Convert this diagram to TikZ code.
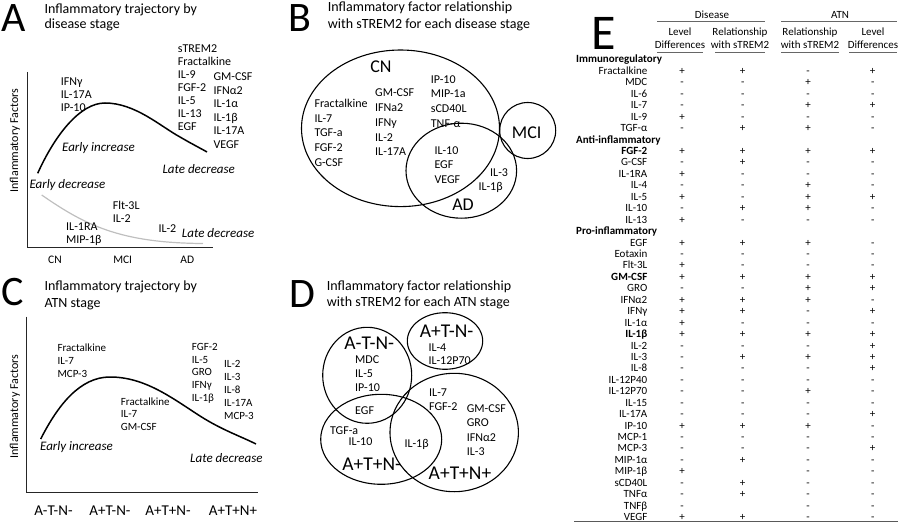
\documentclass[tikz,border=0pt]{standalone}
\usepackage{fontspec}
\setmainfont{Carlito}
\usetikzlibrary{shapes.geometric,positioning}

% one factor per line, first baseline at (x,y)
\newcommand\factorlist[6][]{%
  \foreach \t [count=\i] in {#6}
    \node[fac,#1] (#2\i) at (#3,{#4+(\i-1)*#5}) {\t};}

\begin{document}
\begin{tikzpicture}[x=1pt,y=-1pt,
  lbl/.style={anchor=base west,inner sep=0pt},
  letter/.style={lbl,font=\fontsize{42}{42}\selectfont},
  title/.style={lbl,align=left,font=\fontsize{14}{16.6}\selectfont},
  fac/.style={lbl,font=\fontsize{12}{14}\selectfont},
  trend/.style={lbl,font=\fontsize{13}{15}\selectfont\itshape},
  stage/.style={anchor=base,inner sep=0pt,font=\fontsize{11.5}{12}\selectfont},
  setname/.style={anchor=base,inner sep=0pt,font=\fontsize{18}{18}\selectfont},
  axis/.style={line width=0.9pt,black!85},
  curve/.style={line width=1.5pt},
  venn/.style={draw,ellipse,line width=1.1pt,inner sep=0pt},
  tab/.style={anchor=base,inner sep=0pt,font=\fontsize{11}{11.4}\selectfont},
  rule/.style={line width=0.6pt,black!60}]
\useasboundingbox (0,0) rectangle (900,524);

% panel A
\node[letter] (lA) at (1,31.7) {A};
\node[title,font=\fontsize{14}{15}\selectfont] (tA) at (44.3,28.3) {Inflammatory trajectory by\\disease stage};
\node[rotate=90,font=\fontsize{12}{12}\selectfont] (yA) at (15,140.5) {Inflammatory Factors};
\coordinate (A-top) at (27.7,72);
\coordinate (A-end) at (213.3,247.5);
\draw[axis] (A-top) |- (A-end);
\node[stage] (CN) at (55,263.7) {CN};
\node[stage] (MCI) at (122.7,263.7) {MCI};
\node[stage] (AD) at (187.3,263.7) {AD};
\coordinate (A-s) at (37.7,173.3);
\coordinate (A-pk) at (105,103);
\coordinate (A-e) at (207,152);
\draw[curve] (A-s) .. controls (55,135) and (80,103) .. (A-pk)
  .. controls (135,103) and (160,126) .. (180,137)
  .. controls (192,144) and (200,148) .. (A-e);
\coordinate (A-g) at (41.7,195);
\coordinate (A-h) at (203,243.5);
\draw[line width=1.2pt,gray!50] (A-g) .. controls (85,225) and (120,243) .. (A-h);
\node[trend] (eiA) at (62,151.7) {Early increase};
\node[trend] (ldA) at (162.3,174) {Late decrease};
\node[trend] (edA) at (29.3,188.3) {Early decrease};
\node[trend] (ldA2) at (181.7,237.3) {Late decrease};
\factorlist{a}{60.7}{85.3}{12.9}{IFNγ,IL-17A,IP-10}
\factorlist{b}{177.7}{52.7}{13.05}{sTREM2,Fractalkine,IL-9,FGF-2,IL-5,IL-13,EGF}
\factorlist{c}{213.3}{81}{13.45}{GM-CSF,IFNα2,IL-1α,IL-1β,IL-17A,VEGF}
\factorlist{d}{112.7}{209}{13.7}{Flt-3L,IL-2}
\factorlist{e}{66}{230.7}{12.7}{IL-1RA,MIP-1β}
\node[fac] (f1) at (158.3,232.3) {IL-2};

% panel B
\node[letter] (lB) at (288.5,31.7) {B};
\node[title] (tB) at (327.7,28.3) {Inflammatory factor relationship\\with sTREM2 for each disease stage};
\node[venn,minimum width=198pt,minimum height=156.6pt] (vCN) at (400.5,128.3) {};
\node[venn,minimum width=56pt,minimum height=56pt] (vMCI) at (527.7,130.5) {};
\node[venn,minimum width=110.6pt,minimum height=95pt] (vAD) at (461.3,170.7) {};
\node[setname] (sCN) at (381,72.5) {CN};
\node[setname] (sMCI) at (526.7,138.8) {MCI};
\node[setname] (sAD) at (463,210.8) {AD};
\factorlist{g}{314.3}{107.5}{14.75}{Fractalkine,IL-7,TGF-a,FGF-2,G-CSF}
\factorlist{h}{375}{96.5}{14.85}{GM-CSF,IFNa2,IFNy,IL-2,IL-17A}
\factorlist{k}{430.7}{83.2}{14.67}{IP-10,MIP-1a,sCD40L,TNF-α}
\factorlist{m}{434.3}{154.5}{14.5}{IL-10,EGF,VEGF}
\node[fac] (n1) at (490,176) {IL-3};
\node[fac] (n2) at (478.3,190.8) {IL-1β};

% panel C
\node[letter] (lC) at (1,305) {C};
\node[title] (tC) at (44.3,307.3) {Inflammatory trajectory by\\ATN stage};
\node[rotate=90,font=\fontsize{12}{12}\selectfont] (yC) at (15,406.7) {Inflammatory Factors};
\coordinate (C-top) at (26,316.7);
\coordinate (C-end) at (258,492.7);
\draw[axis] (C-top) |- (C-end);
\node[stage,font=\fontsize{15}{15}\selectfont] (s1) at (53.5,515) {A-T-N-};
\node[stage,font=\fontsize{15}{15}\selectfont] (s2) at (110,515) {A+T-N-};
\node[stage,font=\fontsize{15}{15}\selectfont] (s3) at (168,515) {A+T+N-};
\node[stage,font=\fontsize{15}{15}\selectfont] (s4) at (233,515) {A+T+N+};
\coordinate (C-s) at (40.7,439);
\coordinate (C-pk) at (110,377);
\coordinate (C-e) at (256,444);
\draw[curve] (C-s) .. controls (58,405) and (80,377) .. (C-pk)
  .. controls (145,377) and (172,398) .. (200,416)
  .. controls (222,430) and (240,436) .. (C-e);
\node[trend] (eiC) at (40,450) {Early increase};
\node[trend] (ldC) at (190,462.7) {Late decrease};
\factorlist[font=\fontsize{11}{13}\selectfont]{p}{57.3}{351.8}{13}{Fractalkine,IL-7,MCP-3}
\factorlist[font=\fontsize{11}{13}\selectfont]{q}{120.7}{405.2}{12.7}{Fractalkine,IL-7,GM-CSF}
\factorlist[font=\fontsize{11}{13}\selectfont]{u}{191.7}{350.2}{12.85}{FGF-2,IL-5,GRO,IFNγ,IL-1β}
\factorlist[font=\fontsize{11}{13}\selectfont]{v}{224}{367.8}{13}{IL-2,IL-3,IL-8,IL-17A,MCP-3}

% panel D
\node[letter] (lD) at (289,307) {D};
\node[title] (tD) at (326.7,306.7) {Inflammatory factor relationship\\with sTREM2 for each ATN stage};
\node[venn,minimum width=89pt,minimum height=96pt] (vAmTmNm) at (367.2,375.3) {};
\node[venn,minimum width=75.4pt,minimum height=56.6pt] (vApTmNm) at (445,341) {};
\node[venn,minimum width=121pt,minimum height=90pt] (vApTpNm) at (381.2,439.3) {};
\node[venn,minimum width=128.4pt,minimum height=118.4pt] (vApTpNp) at (454.2,432.5) {};
\tikzstyle{atn}=[setname,font=\fontsize{19.5}{20}\selectfont]
\node[atn] (sAmTmNm) at (369.3,349) {A-T-N-};
\node[atn] (sApTmNm) at (446.7,337) {A+T-N-};
\node[atn] (sApTpNm) at (371.7,470.3) {A+T+N-};
\node[atn] (sApTpNp) at (460,479) {A+T+N+};
\factorlist{w}{428.3}{351.6}{13}{IL-4,IL-12P70}
\factorlist{x}{355}{363.2}{14.2}{MDC,IL-5,IP-10}
\node[fac] (egf) at (355,414) {EGF};
\factorlist{y}{429}{396.2}{14.4}{IL-7,FGF-2}
\factorlist{z}{466.7}{412.2}{14.45}{GM-CSF,GRO,IFNα2,IL-3}
\node[fac] (tgf) at (330,434.6) {TGF-a};
\node[fac] (il10) at (348.3,445.6) {IL-10};
\node[fac] (il1b) at (404.3,447.2) {IL-1β};

% panel E
\node[letter,font=\fontsize{50}{50}\selectfont] (lE) at (591,50) {E};
\node[tab] (hdis) at (712,18.5) {Disease};
\node[tab] (hatn) at (840,18.5) {ATN};
\draw[rule] (657,21.5) -- (765,21.5);
\draw[rule] (781,21.5) -- (897,21.5);
\foreach \top/\bot/\cx/\lo/\hi [count=\j] in
  {Level/Differences/680/657/703, Relationship/with sTREM2/740/715/765,
   Relationship/with sTREM2/810/781/839, Level/Differences/873/849/897}{
  \node[tab] (h\j a) at (\cx,35.2) {\top};
  \node[tab] (h\j b) at (\cx,48.5) {\bot};
  \draw[rule] (\lo,52) -- (\hi,52);
}
\tikzstyle{sect}=[tab,anchor=base west,font=\fontsize{11}{11.4}\selectfont\bfseries]
\node[sect] (sec1) at (576,63) {Immunoregulatory};
\node[sect] (sec2) at (576,143.1) {Anti-inflammatory};
\node[sect] (sec3) at (576,234.6) {Pro-inflammatory};
\foreach \lab/\a/\b/\c/\d [count=\k from 1] in
  {Fractalkine/+/+/-/+, MDC/-/-/+/-, IL-6/-/-/-/-, IL-7/-/-/+/+, IL-9/+/-/-/-, TGF-α/-/+/+/-,
   /////,
   \textbf{FGF-2}/+/+/+/+, G-CSF/-/+/-/-, IL-1RA/+/-/-/-, IL-4/-/-/+/-, IL-5/+/-/+/+,
   IL-10/-/+/+/-, IL-13/+/-/-/-,
   /////,
   EGF/+/+/+/-, Eotaxin/-/-/-/-, Flt-3L/+/-/-/-, \textbf{GM-CSF}/+/+/+/+, GRO/-/-/+/+,
   IFNα2/+/+/+/-, IFNγ/+/+/-/+, IL-1α/+/-/-/-, \textbf{IL-1β}/+/+/+/+, IL-2/-/-/-/+,
   IL-3/-/+/+/+, IL-8/-/-/-/+, IL-12P40/-/-/-/-, IL-12P70/-/-/+/-, IL-15/-/-/-/-,
   IL-17A/-/-/-/+, IP-10/+/+/+/-, MCP-1/-/-/-/-, MCP-3/-/-/-/+, MIP-1α/-/+/-/-,
   MIP-1β/+//-/-, sCD40L/-/+/-/-, TNFα/-/+/-/-, TNFβ/-//-/-, VEGF/+/+/-/-}{
  \node[tab,anchor=base east] (r\k) at (647.5,{63+11.44*\k}) {\lab};
  \foreach \s/\cx [count=\j] in {\a/682,\b/742.7,\c/808,\d/872.7}
    \node[tab] (r\k-\j) at (\cx,{63+11.44*\k}) {\s};
}
\draw[line width=0.9pt,black!65] (574,521.7) -- (898,521.7);
\end{tikzpicture}
\end{document}
